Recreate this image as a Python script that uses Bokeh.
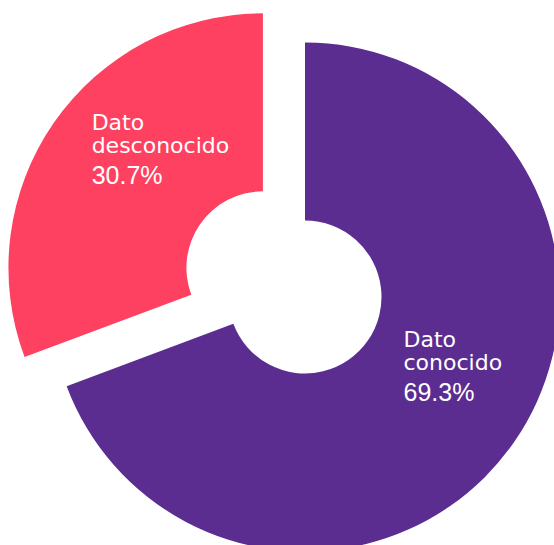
import math
from bokeh.plotting import figure
from bokeh.models import Range1d, ColumnDataSource
from bokeh.embed import file_html
from bokeh.resources import INLINE
from bokeh.core.properties import value

# ---- data ----
categories = ["Dato conocido", "Dato desconocido"]
shares = [69.3, 30.7]
share_labels = ["69.3%", "30.7%"]
colors = ["#5B2D91", "#FF4161"]
explode = [0.0, 1.0]

# ---- styles / geometry ----
W, H = 554, 545
CX, CY = 304.5, 248.5     # donut centre (data units = px)
R_OUT, R_IN = 254.5, 76.5
PULL = 51.2
# label anchor offsets relative to each slice centre
label_dx = [98.5, -171.3]
label_dy = [-42.0, 145.5]
LINE2 = -23.5
LINE3 = -53.0

p = figure(width=W, height=H, x_range=Range1d(0, 554), y_range=Range1d(0, 545),
           output_backend="svg", toolbar_location=None, min_border=0,
           x_axis_location=None, y_axis_location=None)
p.grid.visible = False
p.outline_line_color = None
p.background_fill_color = "white"
p.border_fill_color = "white"

total = sum(shares)
start = math.pi / 2
xs, ys, starts, ends = [], [], [], []
for s, e in zip(shares, explode):
    sweep = s / total * 2 * math.pi
    end = start - sweep
    mid = start - sweep / 2
    xs.append(CX + e * PULL * math.cos(mid))
    ys.append(CY + e * PULL * math.sin(mid))
    starts.append(start)
    ends.append(end)
    start = end

src = ColumnDataSource(dict(x=xs, y=ys, start=starts, end=ends, color=colors))
p.annular_wedge(x="x", y="y", inner_radius=R_IN, outer_radius=R_OUT,
                start_angle="start", end_angle="end", direction="clock",
                fill_color="color", line_color=None, source=src)

line1 = [c.split(" ", 1)[0] for c in categories]
line2 = [c.split(" ", 1)[1] for c in categories]
lx = [x + dx for x, dx in zip(xs, label_dx)]
ly = [y + dy for y, dy in zip(ys, label_dy)]

common = dict(text_color="white", text_align="left", text_baseline="alphabetic")
p.text(x=lx, y=ly, text=line1, text_font=value("DejaVu Sans"), text_font_size="22px", **common)
p.text(x=lx, y=[v + LINE2 for v in ly], text=line2, text_font=value("DejaVu Sans"),
       text_font_size="22px", **common)
p.text(x=lx, y=[v + LINE3 for v in ly], text=share_labels, text_font=value("Liberation Sans"),
       text_font_size="25px", **common)

open("out.html", "w").write(file_html(p, INLINE))
